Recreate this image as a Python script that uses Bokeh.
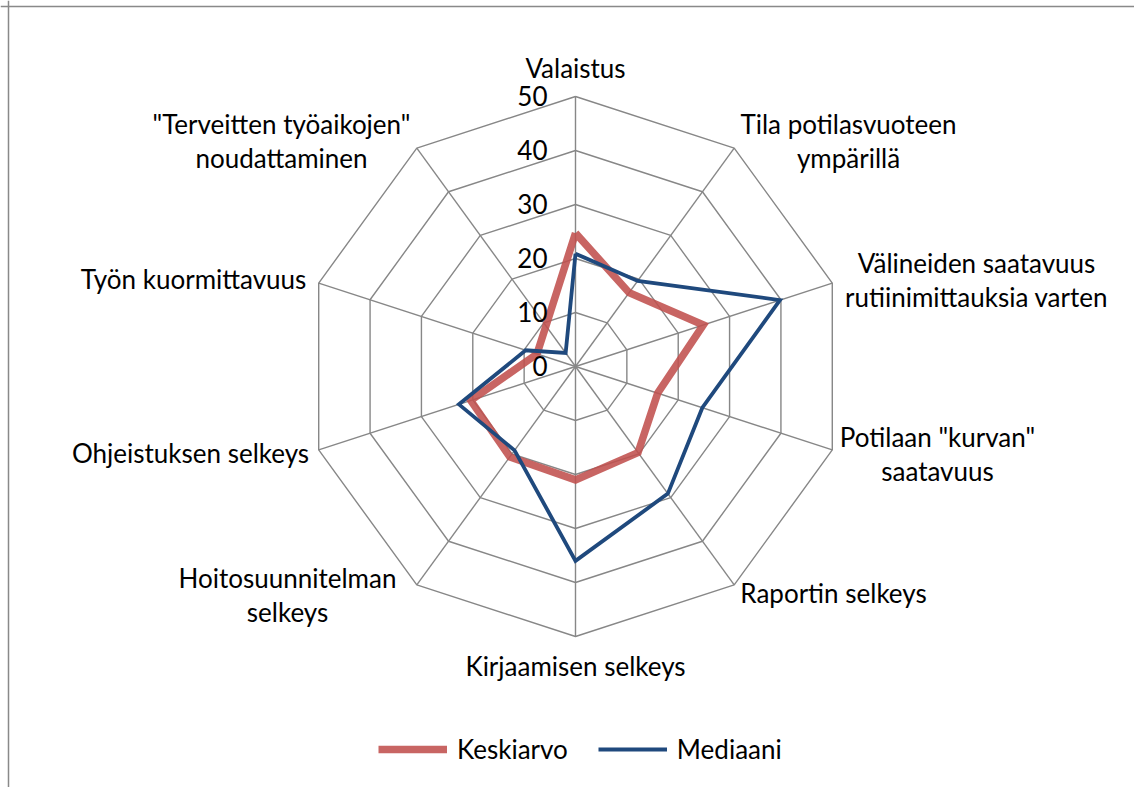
import numpy as np
from bokeh.plotting import figure
from bokeh.models import Range1d, Span, Legend, LegendItem
from bokeh.core.properties import value
from bokeh.embed import file_html
from bokeh.resources import INLINE

# ---------------- data ----------------
categories = [
    "Valaistus",
    "Tila potilasvuoteen\nympärillä",
    "Välineiden saatavuus\nrutiinimittauksia varten",
    "Potilaan \"kurvan\"\nsaatavuus",
    "Raportin selkeys",
    "Kirjaamisen selkeys",
    "Hoitosuunnitelman\nselkeys",
    "Ohjeistuksen selkeys",
    "Työn kuormittavuus",
    "\"Terveitten työaikojen\"\nnoudattaminen",
]
keskiarvo = [24.7, 16.9, 24.9, 16.0, 19.7, 21.0, 20.7, 20.4, 7.5, 9.3]
mediaani = [20.9, 19.6, 39.8, 24.7, 29.1, 36.0, 19.2, 22.7, 9.7, 3.1]
series_names = ["Keskiarvo", "Mediaani"]
ticks = [0, 10, 20, 30, 40, 50]

# ---------------- layout ----------------
W, H = 1134, 787
CX, CY = 575, 366          # chart centre (px, from top-left of figure)
S = 5.4                    # px per value unit

FONT = "Lato"
FS = "26px"
LINE_SP = 34

# label block centres (px)
label_pos = [(575, 67), (848, 140), (976, 279), (937, 453), (833, 592),
             (575, 665), (287, 594), (190, 452), (193, 278), (281, 140)]

p = figure(width=W, height=H, output_backend="svg", toolbar_location=None,
           x_range=Range1d(-CX / S, (W - CX) / S),
           y_range=Range1d(-(H - CY) / S, CY / S),
           min_border=0, outline_line_color=None)
p.axis.visible = False
p.grid.visible = False
p.background_fill_color = "white"
p.border_fill_color = "white"

n = len(categories)
ang = np.pi / 2 - 2 * np.pi * np.arange(n) / n
cs, sn = np.cos(ang), np.sin(ang)
rmax = ticks[-1]

# rings
rx, ry = [], []
for t in ticks[1:]:
    rx.append(list(t * cs) + [t * cs[0]])
    ry.append(list(t * sn) + [t * sn[0]])
p.multi_line(rx, ry, line_color="#878787", line_width=1.4)
# spokes
p.multi_line([[0, rmax * c] for c in cs], [[0, rmax * s] for s in sn],
             line_color="#878787", line_width=1.4)

# series
k = np.array(keskiarvo)
m = np.array(mediaani)
r1 = p.line(list(k * cs) + [k[0] * cs[0]], list(k * sn) + [k[0] * sn[0]],
            line_color="#C0504D", line_alpha=0.88, line_width=7.5, line_join="miter")
r2 = p.line(list(m * cs) + [m[0] * cs[0]], list(m * sn) + [m[0] * sn[0]],
            line_color="#1F497D", line_width=3.8, line_join="miter")

# tick labels
p.text(x=[-28 / S] * len(ticks), y=[t + 0.1 for t in ticks], text=[str(t) for t in ticks],
       text_align="right", text_baseline="middle", text_font=value(FONT),
       text_font_size=FS, text_color="black")

# category labels
tx, ty, tt = [], [], []
for cat, (lx, ly) in zip(categories, label_pos):
    lines = cat.split("\n")
    kk = len(lines)
    for i, ln in enumerate(lines):
        py = ly + (i - (kk - 1) / 2) * LINE_SP
        tx.append((lx - CX) / S)
        ty.append((CY - py) / S)
        tt.append(ln)
p.text(x=tx, y=ty, text=tt, text_align="center", text_baseline="middle",
       text_font=value(FONT), text_font_size=FS, text_color="black")

# chart border (left and top visible)
p.add_layout(Span(location=(8 - CX) / S, dimension="height",
                  line_color="#898989", line_width=1.5))
p.add_layout(Span(location=(CY - 6) / S, dimension="width",
                  line_color="#898989", line_width=1.5))

legend = Legend(items=[LegendItem(label=series_names[0], renderers=[r1]),
                       LegendItem(label=series_names[1], renderers=[r2])],
                orientation="horizontal", location=(378, H - 765),
                glyph_width=69, glyph_height=30, label_standoff=10, spacing=30,
                padding=0, margin=0, border_line_color=None,
                background_fill_alpha=0, label_text_font=FONT,
                label_text_font_size=FS, label_text_color="black")
p.add_layout(legend)

open("out.html", "w").write(file_html(p, INLINE))
